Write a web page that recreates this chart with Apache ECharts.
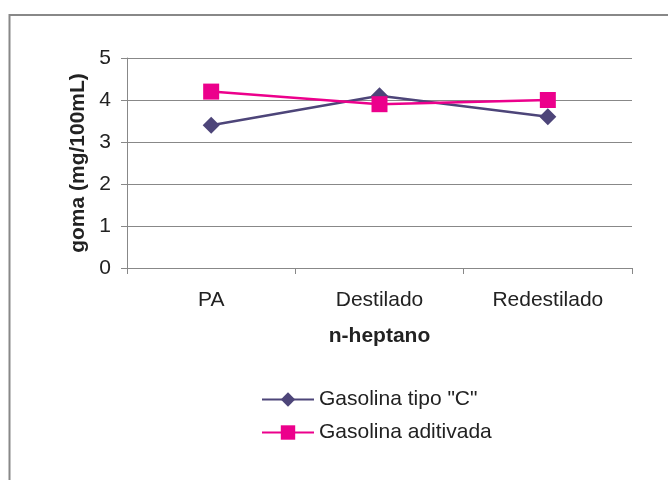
<!DOCTYPE html>
<html><head><meta charset="utf-8">
<script src="https://cdn.jsdelivr.net/npm/echarts@6/dist/echarts.min.js"></script>
<style>html,body{margin:0;padding:0;background:#fff}#c{width:668px;height:480px}</style>
</head><body><div id="c"></div>
<script>
const categories = ['PA', 'Destilado', 'Redestilado'];
const gasolinaTipoC = [3.4, 4.1, 3.6];
const gasolinaAditivada = [4.2, 3.9, 4.0];
const yTicks = [0, 1, 2, 3, 4, 5];

const chart = echarts.init(document.getElementById('c'));
const font = '"Liberation Sans", Arial, sans-serif';
chart.setOption({
  animation: false,
  backgroundColor: '#fff',
  textStyle: { fontFamily: font },
  graphic: [{
    type: 'rect', silent: true,
    shape: { x: 9.5, y: 15, width: 700, height: 500 },
    style: { fill: 'none', stroke: '#888', lineWidth: 2 }
  }],
  grid: { left: 127, right: 36, top: 58, bottom: 212 },
  legend: {
    orient: 'vertical', left: 256, top: 384,
    itemWidth: 52, itemHeight: 18, itemGap: 12,
    textStyle: { fontSize: 21, color: '#222', fontFamily: font },
    data: ['Gasolina tipo "C"', 'Gasolina aditivada']
  },
  xAxis: {
    type: 'category', data: categories, boundaryGap: true,
    name: 'n-heptano', nameLocation: 'middle', nameGap: 58,
    nameTextStyle: { fontSize: 21, fontWeight: 'bold', color: '#222', fontFamily: font },
    axisLine: { lineStyle: { color: '#888', width: 1 } },
    axisTick: { show: true, length: 6, lineStyle: { color: '#888' } },
    axisLabel: { fontSize: 21, color: '#222', margin: 22, fontFamily: font },
    splitLine: { show: false }
  },
  yAxis: {
    type: 'value', min: yTicks[0], max: yTicks[yTicks.length - 1], interval: 1,
    name: 'goma (mg/100mL)', nameLocation: 'middle', nameGap: 38, nameRotate: 90,
    nameTextStyle: { fontSize: 21, fontWeight: 'bold', color: '#222', fontFamily: font },
    axisLine: { show: true, lineStyle: { color: '#888', width: 1 } },
    axisTick: { show: true, length: 6, lineStyle: { color: '#888' } },
    axisLabel: { fontSize: 21, color: '#222', margin: 16, fontFamily: font },
    splitLine: { show: true, lineStyle: { color: '#888', width: 1 } }
  },
  series: [
    {
      name: 'Gasolina tipo "C"', type: 'line', data: gasolinaTipoC,
      symbol: 'diamond', symbolSize: 17,
      lineStyle: { color: '#4D4579', width: 2.5 },
      itemStyle: { color: '#4D4579' }
    },
    {
      name: 'Gasolina aditivada', type: 'line', data: gasolinaAditivada,
      symbol: 'rect', symbolSize: 16,
      lineStyle: { color: '#EC008C', width: 2.5 },
      itemStyle: { color: '#EC008C' }
    }
  ]
});
</script></body></html>
